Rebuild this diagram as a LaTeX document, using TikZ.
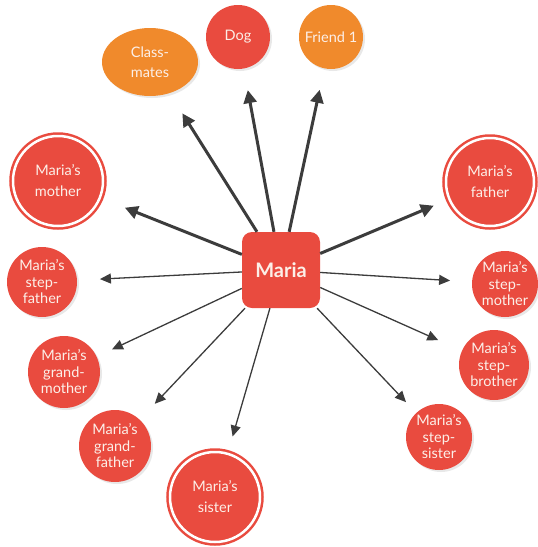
\documentclass[tikz,border=0pt]{standalone}
\usepackage{fontspec}
\setmainfont{Lato}
\usetikzlibrary{arrows.meta,shadows,shapes.geometric}
\definecolor{famred}{HTML}{E94B3F}
\definecolor{famorange}{HTML}{F08A2C}
\definecolor{famtext}{HTML}{FCEFE8}
\definecolor{famarrow}{HTML}{3C3C3C}

\begin{document}
\begin{tikzpicture}[x=1pt,y=-1pt,
    member/.style={circle,fill=famred,text=famtext,align=center,inner sep=0pt,outer sep=0pt,
      font=\fontsize{14.5}{16.5}\selectfont,
      drop shadow={opacity=0.18,shadow xshift=2pt,shadow yshift=-2pt}},
    parent/.style={member,draw=famred,line width=2.5pt,double=white,double distance=2.5pt,
      minimum size=90pt,font=\fontsize{14.5}{21}\selectfont},
    friendnode/.style={member,fill=famorange},
    link/.style={famarrow,line width=3pt,-{Triangle[length=13pt,width=13pt]}},
    thinlink/.style={famarrow,line width=1.3pt,-{Triangle[length=11pt,width=10pt]}}]
  \useasboundingbox (0,0) rectangle (538,547);
  % centre
  \node[fill=famred,rounded corners=10pt,minimum width=78pt,minimum height=76pt,
    text=famtext,font=\fontsize{20}{24}\selectfont\bfseries] (maria) at (281,270) {Maria};
  % top row
  \node[friendnode,ellipse,minimum width=96pt,minimum height=68pt,
    font=\fontsize{14.5}{20}\selectfont] (classmates) at (150,62) {Class-\\mates};
  \node[member,minimum size=64pt] (dog) at (238,37) {Dog};
  \node[friendnode,minimum size=64pt] (friend) at (331,37) {Friend 1};
  % parents and sister (double ring)
  \node[parent] (mother) at (58,181) {Maria’s\\mother};
  \node[parent,minimum size=88pt] (father) at (490,182) {Maria’s\\father};
  \node[parent] (sister) at (215,497) {Maria’s\\sister};
  % left side
  \node[member,minimum size=70pt] (stepfather) at (42,282) {Maria’s\\step-\\father};
  \node[member,minimum size=72pt] (grandmother) at (64,372) {Maria’s\\grand-\\mother};
  \node[member,minimum size=72pt] (grandfather) at (115,446) {Maria’s\\grand-\\father};
  % right side
  \node[member,minimum size=66pt] (stepmother) at (505,284) {Maria’s\\step-\\mother};
  \node[member,minimum size=70pt] (stepbrother) at (494,365) {Maria’s\\step-\\brother};
  \node[member,minimum size=66pt] (stepsister) at (439,437) {Maria’s\\step-\\sister};
  % thick arrows
  \draw[link,shorten >=24pt] (maria) -- (classmates);
  \draw[link,shorten >=22pt] (maria) -- (dog);
  \draw[link,shorten >=22pt] (maria) -- (friend);
  \draw[link,shorten >=27pt] (maria) -- (mother);
  \draw[link,shorten >=17pt] (maria) -- (father);
  % thin arrows
  \draw[thinlink,shorten >=23pt] (maria) -- (stepfather);
  \draw[thinlink,shorten >=22pt] (maria) -- (stepmother);
  \draw[thinlink,shorten >=17pt] (maria) -- (grandmother);
  \draw[thinlink,shorten >=22pt] (maria) -- (grandfather);
  \draw[thinlink,shorten >=26pt] (maria) -- (stepbrother);
  \draw[thinlink,shorten >=15pt] (maria) -- (stepsister);
  \draw[thinlink,shorten >=18pt] (maria) -- (sister);
\end{tikzpicture}
\end{document}
